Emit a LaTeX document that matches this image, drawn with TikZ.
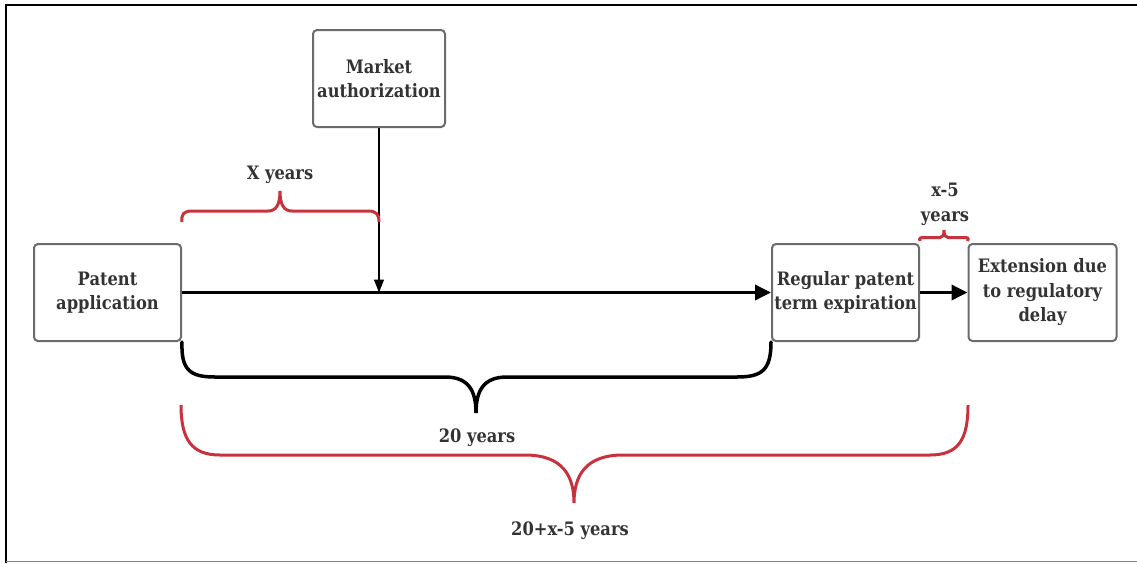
\documentclass[tikz,border=0pt]{standalone}
\usepackage{fontspec}
\setmainfont{DejaVu Serif}[FakeStretch=0.88]
\usetikzlibrary{arrows.meta}
\definecolor{txtgray}{HTML}{333333}
\definecolor{boxgray}{HTML}{6B6B6B}
\definecolor{bracered}{HTML}{C8323C}
\tikzset{
  stepbox/.style={draw=boxgray, line width=2pt, rounded corners=4pt, align=center,
    text=txtgray, inner sep=0pt, font=\bfseries\fontsize{18.5}{24.5}\selectfont},
  lbl/.style={text=txtgray, align=center, inner sep=0pt, font=\bfseries\fontsize{18.5}{25}\selectfont},
  thickarrow/.style={line width=3.5pt, -{Triangle[length=16pt,width=15pt]}},
  thinarrow/.style={line width=1.3pt, -{Triangle[length=13pt,width=10pt]}},
  blackbrace/.style={line width=3.5pt, line cap=round},
  redbrace/.style={draw=bracered, line width=3pt}
}
\begin{document}
\begin{tikzpicture}[x=1pt,y=-1pt]
\useasboundingbox (0,0) rectangle (1137,563);
% frame
\draw[line width=2.5pt] (6,563) -- (6,5) -- (1137,5);
\draw[gray, line width=1pt] (6,561.5) -- (1137,561.5);
% boxes
\node[stepbox, minimum width=147pt, minimum height=97pt] (pa) at (107.5,292.5) {Patent\\application};
\node[stepbox, minimum width=132pt, minimum height=97pt] (ma) at (379,78.5) {Market\\authorization};
\node[stepbox, minimum width=147pt, minimum height=97pt] (rp) at (845.5,292.5) {Regular patent\\term expiration};
\node[stepbox, minimum width=148pt, minimum height=97pt] (ex) at (1042.5,292.5) {Extension due\\to regulatory\\delay};
% connectors
\draw[thickarrow] (pa.east) -- (rp.west);
\draw[thickarrow] (rp.east) -- (ex.west);
\coordinate (mahit) at (ma.south |- pa.east);
\draw[thinarrow] (ma.south) -- (mahit);
% X years brace
\draw[redbrace] (pa.east |- 0,222) .. controls (181,214) and (184,211) .. (192,211) -- (268,211)
  .. controls (276,211) and (280,205) .. (280,191)
  .. controls (280,205) and (284,211) .. (292,211) -- (368,211)
  .. controls (376,211) and (379,214) .. (ma.south |- 0,222);
\node[lbl] (xy) at (280,175) {X years};
% small brace
\draw[redbrace] (rp.east |- 0,241) .. controls (919,238) and (920,237.5) .. (924,237.5) -- (940,237.5)
  .. controls (943,237.5) and (944,235) .. (944,230)
  .. controls (944,235) and (945,237.5) .. (948,237.5) -- (964,237.5)
  .. controls (968,237.5) and (969,238) .. (ex.west |- 0,241);
\node[lbl] (x5) at (945,204.5) {x-5\\years};
% 20 years brace
\draw[blackbrace] (pa.south east) .. controls (181,370) and (190,377) .. (215,377) -- (445,377)
  .. controls (468,377) and (476,390) .. (476,413)
  .. controls (476,390) and (484,377) .. (507,377) -- (737,377)
  .. controls (762,377) and (771,370) .. (rp.south west);
\node[lbl] (t20) at (477,438) {20 years};
% total brace
\draw[redbrace] (181,405) .. controls (181,440) and (192,455) .. (220,455) -- (525,455)
  .. controls (562,455) and (574,475) .. (574,503)
  .. controls (574,475) and (586,455) .. (623,455) -- (930,455)
  .. controls (958,455) and (968,440) .. (968,405);
\node[lbl] (tot) at (570,531) {20+x-5 years};
\end{tikzpicture}
\end{document}
